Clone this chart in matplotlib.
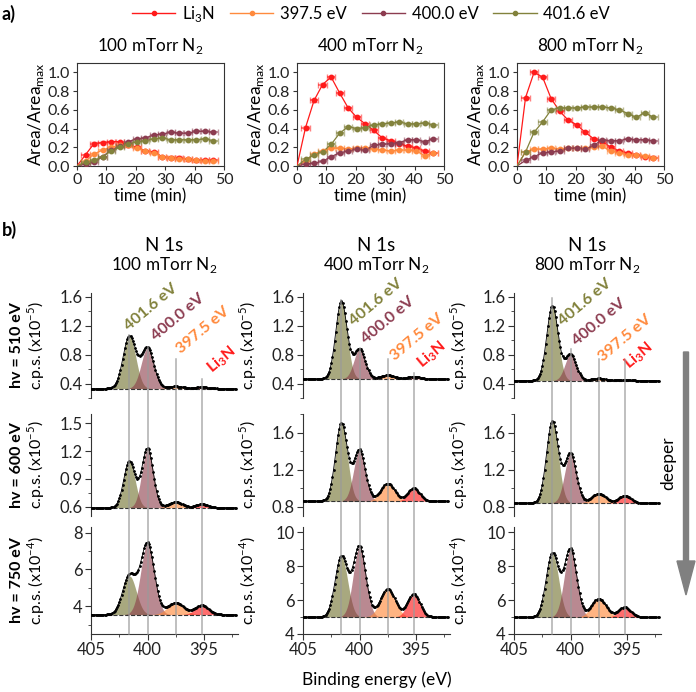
import numpy as np
import matplotlib
matplotlib.use('Agg')
import matplotlib.pyplot as plt
import matplotlib.transforms as mtransforms
from matplotlib.lines import Line2D
from matplotlib.patches import FancyArrow
from matplotlib.ticker import MultipleLocator

plt.rcParams['font.family'] = ['Lato', 'DejaVu Sans']
plt.rcParams['font.size'] = 10
plt.rcParams['axes.linewidth'] = 0.8
plt.rcParams['axes.edgecolor'] = '#333333'
plt.rcParams['xtick.color'] = '#333333'
plt.rcParams['ytick.color'] = '#333333'
plt.rcParams['xtick.labelcolor'] = '#222222'
plt.rcParams['ytick.labelcolor'] = '#222222'

# ---- panel a: normalised peak areas vs time ----
t_min = [0, 2.9, 5.8, 8.7, 11.6, 14.5, 17.4, 20.3, 23.2, 26.1, 29.0, 31.9, 34.8, 37.7, 40.6, 43.5, 46.4]

li3n_100 = [0, 0.12, 0.24, 0.25, 0.26, 0.26, 0.22, 0.20, 0.16, 0.15, 0.10, 0.09, 0.09, 0.07, 0.06, 0.06, 0.06]
e3975_100 = [0, 0.05, 0.13, 0.17, 0.20, 0.22, 0.22, 0.19, 0.16, 0.14, 0.10, 0.09, 0.08, 0.07, 0.06, 0.05, 0.05]
e4000_100 = [0, 0.02, 0.04, 0.10, 0.17, 0.21, 0.26, 0.29, 0.30, 0.33, 0.34, 0.36, 0.35, 0.35, 0.37, 0.37, 0.36]
e4016_100 = [0, 0.04, 0.06, 0.10, 0.16, 0.20, 0.23, 0.26, 0.27, 0.29, 0.30, 0.28, 0.28, 0.28, 0.28, 0.29, 0.27]

li3n_400 = [0, 0.41, 0.70, 0.87, 0.95, 0.78, 0.62, 0.52, 0.45, 0.38, 0.30, 0.27, 0.24, 0.21, 0.195, 0.16, 0.135]
e3975_400 = [0, 0.05, 0.13, 0.16, 0.19, 0.19, 0.18, 0.19, 0.19, 0.18, 0.17, 0.16, 0.17, 0.17, 0.16, 0.11, 0.14]
e4000_400 = [0, 0.02, 0.03, 0.05, 0.10, 0.14, 0.16, 0.18, 0.17, 0.22, 0.23, 0.24, 0.25, 0.28, 0.28, 0.26, 0.29]
e4016_400 = [0, 0.07, 0.12, 0.15, 0.23, 0.35, 0.42, 0.40, 0.41, 0.44, 0.45, 0.46, 0.47, 0.45, 0.45, 0.46, 0.44]

li3n_800 = [0, 0.73, 1.00, 0.95, 0.72, 0.585, 0.49, 0.44, 0.36, 0.29, 0.26, 0.20, 0.16, 0.14, 0.12, 0.10, 0.09]
e3975_800 = [0, 0.15, 0.18, 0.18, 0.19, 0.18, 0.19, 0.19, 0.19, 0.20, 0.21, 0.16, 0.14, 0.12, 0.12, 0.11, 0.09]
e4000_800 = [0, 0.06, 0.10, 0.14, 0.15, 0.16, 0.19, 0.19, 0.18, 0.22, 0.28, 0.27, 0.27, 0.29, 0.28, 0.28, 0.27]
e4016_800 = [0, 0.15, 0.36, 0.47, 0.60, 0.62, 0.62, 0.62, 0.63, 0.63, 0.63, 0.62, 0.60, 0.56, 0.52, 0.57, 0.52]

pressures = ['100 mTorr', '400 mTorr', '800 mTorr']
area_series = [
    [li3n_100, e3975_100, e4000_100, e4016_100],
    [li3n_400, e3975_400, e4000_400, e4016_400],
    [li3n_800, e3975_800, e4000_800, e4016_800],
]
series_names = ['Li$_\\mathregular{3}$N', '397.5 eV', '400.0 eV', '401.6 eV']
line_cols = ['#ff1a1a', '#ff8a3d', '#8c3c50', '#82823c']

# ---- panel b: N 1s fit components (peak position, height above baseline, width) ----
peak_ev = [401.6, 400.0, 397.5, 395.2]
photon_ev = ['510', '600', '750']
# [column][row] baseline (c.p.s., in units of the axis multiplier)
baseline = [[0.33, 0.59, 3.55], [0.465, 0.86, 5.0], [0.44, 0.84, 4.98]]
# [column][row] component heights: 401.6, 400.0, 397.5, Li3N
heights = [
    [[0.72, 0.56, 0.03, 0.02], [0.50, 0.64, 0.06, 0.04], [2.1, 3.85, 0.65, 0.50]],
    [[1.07, 0.41, 0.05, 0.03], [0.84, 0.55, 0.19, 0.14], [3.55, 4.15, 1.65, 1.35]],
    [[1.03, 0.36, 0.03, 0.01], [0.88, 0.53, 0.10, 0.08], [3.75, 4.00, 1.10, 0.60]],
]
sigmas = [[0.56, 0.50, 0.60], [0.50, 0.52, 0.55], [0.50, 0.52, 0.55]]
exponents = ['-5', '-5', '-4']

fill_cols = ['#7a7a3a', '#8b3a48', '#ff8c40', '#ff3030']
fill_alpha = [0.65, 0.6, 0.65, 0.7]

W, H = 696, 692
fig = plt.figure(figsize=(W / 100, H / 100), dpi=100)


def box(l, t, r, b):
    return [l / W, 1 - b / H, (r - l) / W, (b - t) / H]


# panel a
a_lefts = [77, 297, 517]
for i in range(3):
    ax = fig.add_axes(box(a_lefts[i], 63, a_lefts[i] + 147, 166))
    for k in range(4):
        y = area_series[i][k]
        c = line_cols[k]
        ax.plot(t_min, y, '-', color=c, lw=0.9, zorder=3)
        eb = ax.errorbar(t_min[1:], y[1:], xerr=1.4, yerr=0.012, fmt='none',
                         ecolor=c, elinewidth=1.4, capsize=2, alpha=0.55, zorder=3)
        ax.plot(t_min[1:], y[1:], 'o', ms=3.2, color=c, zorder=4)
    ax.set_xlim(0, 50)
    ax.set_ylim(0, 1.1)
    ax.xaxis.set_major_locator(MultipleLocator(10))
    ax.yaxis.set_major_locator(MultipleLocator(0.2))
    ax.yaxis.set_major_formatter(plt.FormatStrFormatter('%.1f'))
    ax.tick_params(direction='out', length=3, labelsize=11.5, pad=2)
    ax.set_xlabel('time (min)', fontsize=12, labelpad=1)
    ax.set_ylabel('Area/Area$_\\mathregular{max}$', fontsize=12.5, labelpad=1)
    fig.text((a_lefts[i] + 73) / W, 1 - 46 / H, pressures[i] + ' N$_\\mathregular{2}$',
             ha='center', va='center', fontsize=12.3)

handles = [Line2D([0], [0], color=c, lw=1, marker='o', ms=3) for c in line_cols]
fig.legend(handles, series_names, loc='center', bbox_to_anchor=(371 / W, 1 - 14 / H),
           ncol=4, frameon=False, handlelength=2.6, columnspacing=0.9, handletextpad=0.4,
           fontsize=12)

fig.text(2 / W, 1 - 14 / H, 'a)', fontsize=13, weight='bold', va='center')
fig.text(2 / W, 1 - 230 / H, 'b)', fontsize=13, weight='bold', va='center')

# panel b
b_lefts = [91, 303, 514]
row_tb = [(293, 398), (414, 516), (527, 634)]
ylims = [[(0.2, 1.65), (0.5, 1.6), (2.5, 8.3)],
         [(0.2, 1.65), (0.7, 1.8), (4, 10.3)],
         [(0.2, 1.65), (0.7, 1.8), (4, 10.3)]]
ysteps = [[0.4, 0.3, 2], [0.4, 0.4, 2], [0.4, 0.4, 2]]
energy = np.arange(405.0, 392.15, -0.1)

axes_b = [[None] * 3 for _ in range(3)]
for c in range(3):
    for r in range(3):
        t, b = row_tb[r]
        ax = fig.add_axes(box(b_lefts[c], t, b_lefts[c] + 147, b))
        axes_b[c][r] = ax
        base = baseline[c][r]
        total = np.full_like(energy, base)
        for k in range(4):
            s = sigmas[c][r] * (1.2 if k == 2 else 1.0)
            comp = heights[c][r][k] * np.exp(-(energy - peak_ev[k]) ** 2 / (2 * s ** 2))
            ax.fill_between(energy, base, base + comp, color=fill_cols[k],
                            alpha=fill_alpha[k], lw=0, zorder=1)
            total = total + comp
        ax.plot([403.6, 393.5], [base, base], '--', color='#333333', lw=0.8, zorder=2)
        ax.plot(energy, total, '-', color='black', lw=0.6, marker='o', ms=1.0, zorder=3)
        ax.set_xlim(405, 392)
        ax.set_ylim(*ylims[c][r])
        ax.yaxis.set_major_locator(MultipleLocator(ysteps[c][r]))
        ax.yaxis.set_minor_locator(MultipleLocator(ysteps[c][r] / 2))
        ax.xaxis.set_major_locator(MultipleLocator(5))
        ax.xaxis.set_minor_locator(MultipleLocator(2.5))
        ax.spines['top'].set_visible(False)
        ax.spines['right'].set_visible(False)
        ax.tick_params(which='major', direction='out', length=4, labelsize=12, pad=2)
        ax.tick_params(which='minor', direction='out', length=2.5)
        if r < 2:
            ax.spines['bottom'].set_visible(False)
            ax.tick_params(axis='x', which='both', bottom=False, labelbottom=False)
        ax.set_ylabel('c.p.s. (x10$^\\mathregular{%s}$)' % exponents[r], fontsize=11.5)
        ax.yaxis.set_label_coords(-0.30, 0.5)
        ax.patch.set_alpha(0)

    cx = (b_lefts[c] + 73.5) / W
    fig.text(cx, 1 - 245 / H, 'N 1s', ha='center', va='center', fontsize=13.5)
    fig.text(cx, 1 - 265 / H, pressures[c] + ' N$_\\mathregular{2}$', ha='center', va='center',
             fontsize=12.3)

for r in range(3):
    t, b = row_tb[r]
    fig.text(17 / W, 1 - (t + b) / 2 / H, 'hv = %s eV' % photon_ev[r], rotation=90,
             ha='center', va='center', fontsize=11.5, weight='bold')

# grey guide lines through all three rows
line_top = [[1.07, 0.91, 0.74, 0.46], [1.55, 0.89, 0.74, 0.55], [1.58, 0.88, 0.74, 0.73]]
y_bot = 1 - row_tb[2][1] / H
for c in range(3):
    ax_top = axes_b[c][0]
    trans = mtransforms.blended_transform_factory(axes_b[c][2].transData, fig.transFigure)
    for k in range(4):
        yt = fig.transFigure.inverted().transform(
            ax_top.transData.transform((peak_ev[k], line_top[c][k])))[1]
        fig.add_artist(Line2D([peak_ev[k], peak_ev[k]], [y_bot, yt], transform=trans,
                              color='#9a9a9a', lw=1.1, alpha=0.8, zorder=5))

# peak labels in the top row
label_pos = [
    [(399.7, 1.46), (397.3, 1.32), (395.1, 1.14), (393.4, 0.73)],
    [(398.5, 1.52), (397.5, 1.28), (394.9, 1.04), (393.6, 0.80)],
    [(398.7, 1.52), (397.5, 1.25), (395.2, 1.03), (394.0, 0.78)],
]
label_txt = ['401.6 eV', '400.0 eV', '397.5 eV', 'Li$_\\mathregular{3}$N']
label_col = ['#82823c', '#8c3c50', '#ff8a3d', '#ff1a1a']
for c in range(3):
    for k in range(4):
        x, y = label_pos[c][k]
        axes_b[c][0].text(x, y, label_txt[k], color=label_col[k], rotation=40,
                          ha='center', va='center', fontsize=11.5, weight='bold',
                          clip_on=False, zorder=6)

fig.text(377 / W, 1 - 680 / H, 'Binding energy (eV)', ha='center', va='center', fontsize=12.5)

# "deeper" arrow
fig.add_artist(FancyArrow(686 / W, 1 - 352 / H, 0, -(595 - 352) / H, width=5 / W,
                          head_width=18 / W, head_length=34 / H,
                          length_includes_head=True, color='#808080',
                          transform=fig.transFigure))
fig.text(668 / W, 1 - 463 / H, 'deeper', rotation=90, ha='center', va='center', fontsize=12.5)

fig.savefig('out.png', dpi=100)
